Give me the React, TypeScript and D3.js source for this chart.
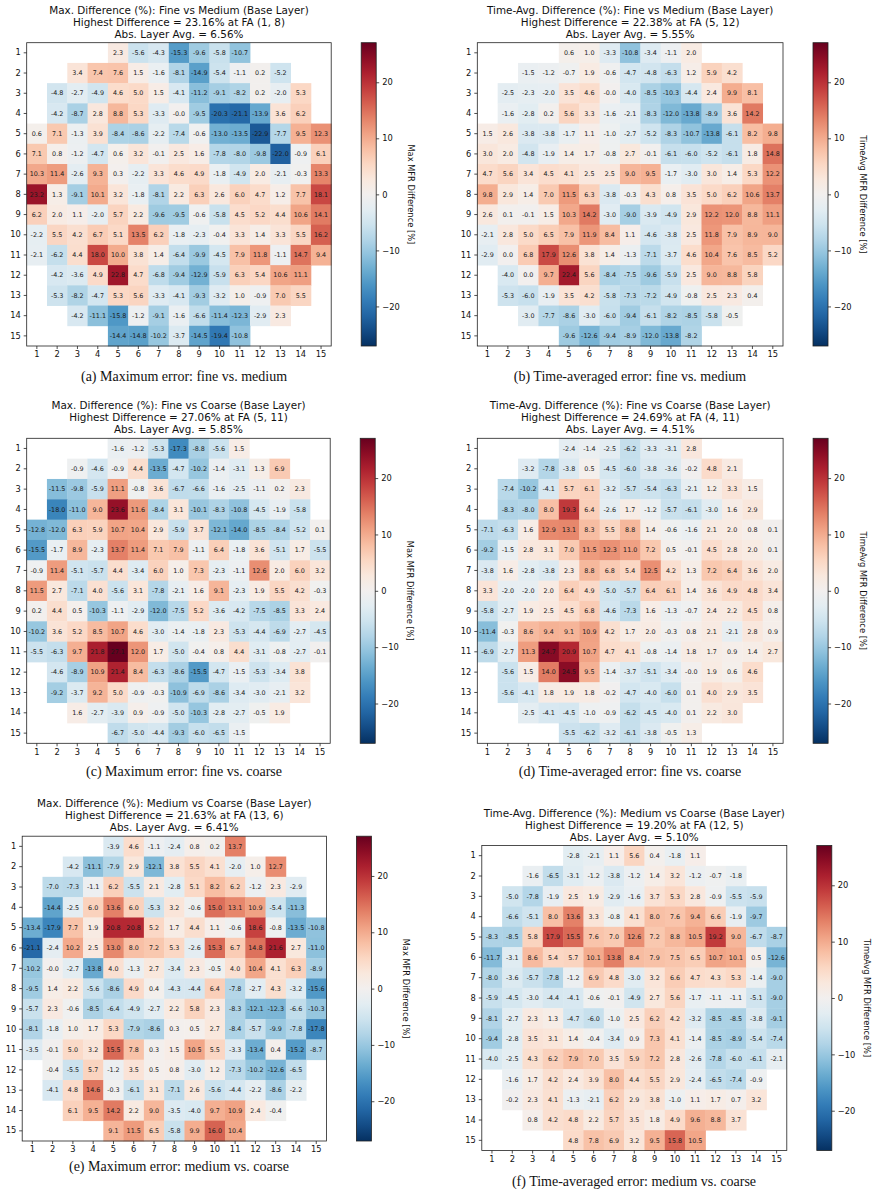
import * as d3 from 'd3';
import { useEffect, useRef } from 'react';

// first and last fuel-assembly column present in each core row (rows 1..15)
const ROW_SPANS: [number, number][] = [
  [5, 11], [3, 13], [2, 14], [2, 14],
  [1, 15], [1, 15], [1, 15], [1, 15], [1, 15], [1, 15], [1, 15],
  [2, 14], [2, 14], [3, 13], [5, 11],
];
const AXIS_LABELS = d3.range(1, 16);
const COLORBAR_TICKS = [-20, -10, 0, 10, 20];
// shared symmetric colour limit (largest difference over all six maps)
const COLOR_LIMIT = 27.06;

const MAX_FINE_MEDIUM = [
  [2.3, -5.6, -4.3, -15.3, -9.6, -5.8, -10.7],
  [3.4, 7.4, 7.6, 1.5, -1.6, -8.1, -14.9, -5.4, -1.1, 0.2, -5.2],
  [-4.8, -2.7, -4.9, 4.6, 5.0, 1.5, -4.1, -11.2, -9.1, -8.2, 0.2, -2.0, 5.3],
  [-4.2, -8.7, 2.8, 8.8, 5.3, -3.3, -0.0, -9.5, -20.3, -21.1, -13.9, 3.6, 6.2],
  [0.6, 7.1, -1.3, 3.9, -8.4, -8.6, -2.2, -7.4, -0.6, -13.0, -13.5, -22.9, -7.7, 9.5, 12.3],
  [7.1, 0.8, -1.2, -4.7, 0.6, 3.2, -0.1, 2.5, 1.6, -7.8, -8.0, -9.8, -22.0, -0.9, 6.1],
  [10.3, 11.4, -2.6, 9.3, 0.3, -2.2, 3.3, 4.6, 4.9, -1.8, -4.9, 2.0, -2.1, -0.3, 13.3],
  [23.2, 1.3, -9.1, 10.1, 3.2, -1.8, -8.1, 2.2, 6.3, 2.6, 6.0, 4.7, 1.2, 7.7, 18.1],
  [6.2, 2.0, 1.1, -2.0, 5.7, 2.2, -9.6, -9.5, -0.6, -5.8, 4.5, 5.2, 4.4, 10.6, 14.1],
  [-2.2, 5.5, 4.2, 6.7, 5.1, 13.5, 6.2, -1.8, -2.3, -0.4, 3.3, 1.4, 3.3, 5.5, 16.2],
  [-2.1, -6.2, 4.4, 18.0, 10.0, 3.8, 1.4, -6.4, -9.9, -4.5, 7.9, 11.8, -1.1, 14.7, 9.4],
  [-4.2, -3.6, 4.9, 22.8, 4.7, -6.8, -9.4, -12.9, -5.9, 6.3, 5.4, 10.6, 11.1],
  [-5.3, -8.2, -4.7, 5.3, 5.6, -3.3, -4.1, -9.3, -3.2, 1.0, -0.9, 7.0, 5.5],
  [-4.2, -11.1, -15.8, -1.2, -9.1, -1.6, -6.6, -11.4, -12.3, -2.9, 2.3],
  [-14.4, -14.8, -10.2, -3.7, -14.5, -19.4, -10.8],
];

const AVG_FINE_MEDIUM = [
  [0.6, 1.0, -3.3, -10.8, -3.4, -1.1, 2.0],
  [-1.5, -1.2, -0.7, 1.9, -0.6, -4.7, -4.8, -6.3, 1.2, 5.9, 4.2],
  [-2.5, -2.3, -2.0, 3.5, 4.6, -0.0, -4.0, -8.5, -10.3, -4.4, 2.4, 9.9, 8.1],
  [-1.6, -2.8, 0.2, 5.6, 3.3, -1.6, -2.1, -8.3, -12.0, -13.8, -8.9, 3.6, 14.2],
  [1.5, 2.6, -3.8, -3.8, -1.7, 1.1, -1.0, -2.7, -5.2, -8.3, -10.7, -13.8, -6.1, 8.2, 9.8],
  [3.0, 2.0, -4.8, -1.9, 1.4, 1.7, -0.8, 2.7, -0.1, -6.1, -6.0, -5.2, -6.1, 1.8, 14.8],
  [4.7, 5.6, 3.4, 4.5, 4.1, 2.5, 2.5, 9.0, 9.5, -1.7, -3.0, 3.0, 1.4, 5.3, 12.2],
  [9.8, 2.9, 1.4, 7.0, 11.5, 6.3, -3.8, -0.3, 4.3, 0.8, 3.5, 5.0, 6.2, 10.6, 13.7],
  [2.6, 0.1, -0.1, 1.5, 10.3, 14.2, -3.0, -9.0, -3.9, -4.9, 2.9, 12.2, 12.0, 8.8, 11.1],
  [-2.1, 2.8, 5.0, 6.5, 7.9, 11.9, 8.4, 1.1, -4.6, -3.8, 2.5, 11.8, 7.9, 8.9, 9.0],
  [-2.9, 0.0, 6.8, 17.9, 12.6, 3.8, 1.4, -1.3, -7.1, -3.7, 4.6, 10.4, 7.6, 8.5, 5.2],
  [-4.0, 0.0, 9.7, 22.4, 5.6, -8.4, -7.5, -9.6, -5.9, 2.5, 9.0, 8.8, 5.8],
  [-5.3, -6.0, -1.9, 3.5, 4.2, -5.8, -7.3, -7.2, -4.9, -0.8, 2.5, 2.3, 0.4],
  [-3.0, -7.7, -8.6, -3.0, -6.0, -9.4, -6.1, -8.2, -8.5, -5.8, -0.5],
  [-9.6, -12.6, -9.4, -8.9, -12.0, -13.8, -8.2],
];

const MAX_FINE_COARSE = [
  [-1.6, -1.2, -5.3, -17.3, -8.8, -5.6, 1.5],
  [-0.9, -4.6, -0.9, 4.4, -13.5, -4.7, -10.2, -1.4, -3.1, 1.3, 6.9],
  [-11.5, -9.8, -5.9, 11.1, -0.8, 3.6, -6.7, -6.6, -1.6, -2.5, -1.1, 0.2, 2.3],
  [-18.0, -11.0, 9.0, 23.6, 11.6, -8.4, 3.1, -10.1, -8.3, -10.8, -4.5, -1.9, -5.8],
  [-12.8, -12.0, 6.3, 5.9, 10.7, 10.4, 2.9, -5.9, 3.7, -12.1, -14.0, -8.5, -8.4, -5.2, 0.1],
  [-15.5, -1.7, 8.9, -2.3, 13.7, 11.4, 7.1, 7.9, -1.1, 6.4, -1.8, 3.6, -5.1, 1.7, -5.5],
  [-0.9, 11.4, -5.1, -5.7, 4.4, -3.4, 6.0, 1.0, 7.3, -2.3, -1.1, 12.6, 2.0, 6.0, 3.2],
  [11.5, 2.7, -7.1, 4.0, -5.6, 3.1, -7.8, -2.1, 1.6, 9.1, -2.3, 1.9, 5.5, 4.2, -0.3],
  [0.2, 4.4, 0.5, -10.3, -1.1, -2.9, -12.0, -7.5, 5.2, -3.6, -4.2, -7.5, -8.5, 3.3, 2.4],
  [-10.2, 3.6, 5.2, 8.5, 10.7, 4.6, -3.0, -1.4, -1.8, 2.3, -5.3, -4.4, -6.9, -2.7, -4.5],
  [-5.5, -6.3, 9.7, 21.8, 27.1, 12.0, 1.7, -5.0, -0.4, 0.8, 4.4, -3.1, -0.8, -2.7, -0.1],
  [-4.6, -8.9, 10.9, 21.4, 8.4, -6.3, -8.6, -15.5, -4.7, -1.5, -5.3, -3.4, 3.8],
  [-9.2, -3.7, 9.2, 5.0, -0.9, -0.3, -10.9, -6.9, -8.6, -3.4, -3.0, -2.1, 3.2],
  [1.6, -2.7, -3.9, 0.9, -0.9, -5.0, -10.3, -2.8, -2.7, -0.5, 1.9],
  [-6.7, -5.0, -4.4, -9.3, -6.0, -6.5, -1.5],
];

const AVG_FINE_COARSE = [
  [-2.4, -1.4, -2.5, -6.2, -3.3, -3.1, 2.8],
  [-3.2, -7.8, -3.8, 0.5, -4.5, -6.0, -3.8, -3.6, -0.2, 4.8, 2.1],
  [-7.4, -10.2, -4.1, 5.7, 6.1, -3.2, -5.7, -5.4, -6.3, -2.1, 1.2, 3.3, 1.5],
  [-8.3, -8.0, 8.0, 19.3, 6.4, -2.6, 1.7, -1.2, -5.7, -6.1, -3.0, 1.6, 2.9],
  [-7.1, -6.3, 1.6, 12.9, 13.1, 8.3, 5.5, 8.8, 1.4, -0.6, -1.6, 2.1, 2.0, 0.8, 0.1],
  [-9.2, -1.5, 2.8, 3.1, 7.0, 11.5, 12.3, 11.0, 7.2, 0.5, -0.1, 4.5, 2.8, 2.0, 0.1],
  [-3.8, 1.6, -2.8, -3.8, 2.3, 8.8, 6.8, 5.4, 12.5, 4.2, 1.3, 7.2, 6.4, 3.6, 2.0],
  [3.3, -2.0, -2.0, 2.0, 6.4, 4.9, -5.0, -5.7, 6.4, 6.1, 1.4, 3.6, 4.9, 4.8, 3.4],
  [-5.8, -2.7, 1.9, 2.5, 4.5, 6.8, -4.6, -7.3, 1.6, -1.3, -0.7, 2.4, 2.2, 4.5, 0.8],
  [-11.4, -0.3, 8.6, 9.4, 9.1, 10.9, 4.2, 1.7, 2.0, -0.3, 0.8, 2.1, -2.1, 2.8, 0.9],
  [-6.9, -2.7, 11.3, 24.7, 20.9, 10.7, 4.7, 4.1, -0.8, -1.4, 1.8, 1.7, 0.9, 1.4, 2.7],
  [-5.6, 1.5, 14.0, 24.5, 9.5, -1.4, -3.7, -5.1, -3.4, -0.0, 1.9, 0.6, 4.6],
  [-5.6, -4.1, 1.8, 1.9, 1.8, -0.2, -4.7, -4.0, -6.0, 0.1, 4.0, 2.9, 3.5],
  [-2.5, -4.1, -4.5, -1.0, -0.9, -6.2, -4.5, -4.0, 0.1, 2.2, 3.0],
  [-5.5, -6.2, -3.2, -6.1, -3.8, -0.5, 1.3],
];

const MAX_MEDIUM_COARSE = [
  [-3.9, 4.6, -1.1, -2.4, 0.8, 0.2, 13.7],
  [-4.2, -11.1, -7.9, 2.9, -12.1, 3.8, 5.5, 4.1, -2.0, 1.0, 12.7],
  [-7.0, -7.3, -1.1, 6.2, -5.5, 2.1, -2.8, 5.1, 8.2, 6.2, -1.2, 2.3, -2.9],
  [-14.4, -2.5, 6.0, 13.6, 6.0, -5.3, 3.2, -0.6, 15.0, 13.1, 10.9, -5.4, -11.3],
  [-13.4, -17.9, 7.7, 1.9, 20.8, 20.8, 5.2, 1.7, 4.4, 1.1, -0.6, 18.6, -0.8, -13.5, -10.8],
  [-21.1, -2.4, 10.2, 2.5, 13.0, 8.0, 7.2, 5.3, -2.6, 15.3, 6.7, 14.8, 21.6, 2.7, -11.0],
  [-10.2, -0.0, -2.7, -13.8, 4.0, -1.3, 2.7, -3.4, 2.3, -0.5, 4.0, 10.4, 4.1, 6.3, -8.9],
  [-9.5, 1.4, 2.2, -5.6, -8.6, 4.9, 0.4, -4.3, -4.4, 6.4, -7.8, -2.7, 4.3, -3.2, -15.6],
  [-5.7, 2.3, -0.6, -8.5, -6.4, -4.9, -2.7, 2.2, 5.8, 2.3, -8.3, -12.1, -12.3, -6.6, -10.3],
  [-8.1, -1.8, 1.0, 1.7, 5.3, -7.9, -8.6, 0.3, 0.5, 2.7, -8.4, -5.7, -9.9, -7.8, -17.8],
  [-3.5, -0.1, 5.0, 3.2, 15.5, 7.8, 0.3, 1.5, 10.5, 5.5, -3.3, -13.4, 0.4, -15.2, -8.7],
  [-0.4, -5.5, 5.7, -1.2, 3.5, 0.5, 0.8, -3.0, 1.2, -7.3, -10.2, -12.6, -6.5],
  [-4.1, 4.8, 14.6, -0.3, -6.1, 3.1, -7.1, 2.6, -5.6, -4.4, -2.2, -8.6, -2.2],
  [6.1, 9.5, 14.2, 2.2, 9.0, -3.5, -4.0, 9.7, 10.9, 2.4, -0.4],
  [9.1, 11.5, 6.5, -5.8, 9.9, 16.0, 10.4],
];

const AVG_MEDIUM_COARSE = [
  [-2.8, -2.1, 1.1, 5.6, 0.4, -1.8, 1.1],
  [-1.6, -6.5, -3.1, -1.2, -3.8, -1.2, 1.4, 3.2, -1.2, -0.7, -1.8],
  [-5.0, -7.8, -1.9, 2.5, 1.9, -2.9, -1.6, 3.7, 5.3, 2.8, -0.9, -5.5, -5.9],
  [-6.6, -5.1, 8.0, 13.6, 3.3, -0.8, 4.1, 8.0, 7.6, 9.4, 6.6, -1.9, -9.7],
  [-8.3, -8.5, 5.8, 17.9, 15.5, 7.6, 7.0, 12.6, 7.2, 8.8, 10.5, 19.2, 9.0, -6.7, -8.7],
  [-11.7, -3.1, 8.6, 5.4, 5.7, 10.1, 13.8, 8.4, 7.9, 7.5, 6.5, 10.7, 10.1, 0.5, -12.6],
  [-8.0, -3.6, -5.7, -7.8, -1.2, 6.9, 4.8, -3.0, 3.2, 6.6, 4.7, 4.3, 5.3, -1.4, -9.0],
  [-5.9, -4.5, -3.0, -4.4, -4.1, -0.6, -0.1, -4.9, 2.7, 5.6, -1.7, -1.1, -1.1, -5.1, -9.0],
  [-8.1, -2.7, 2.3, 1.3, -4.7, -6.0, -1.0, 2.5, 6.2, 4.2, -3.2, -8.5, -8.5, -3.8, -9.1],
  [-9.4, -2.8, 3.5, 3.1, 1.4, -0.4, -3.4, 0.9, 7.3, 4.1, -1.4, -8.5, -8.9, -5.4, -7.4],
  [-4.0, -2.5, 4.3, 6.2, 7.9, 7.0, 3.5, 5.9, 7.2, 2.8, -2.6, -7.8, -6.0, -6.1, -2.1],
  [-1.6, 1.7, 4.2, 2.4, 3.9, 8.0, 4.4, 5.5, 2.9, -2.4, -6.5, -7.4, -0.9],
  [-0.2, 2.3, 4.1, -1.3, -2.1, 6.2, 2.9, 3.8, -1.0, 1.1, 1.7, 0.7, 3.2],
  [0.8, 4.2, 4.8, 2.2, 5.7, 3.5, 1.8, 4.9, 9.6, 8.8, 3.7],
  [4.8, 7.8, 6.9, 3.2, 9.5, 15.8, 10.5],
];

const MAX_LABEL = 'Max MFR Difference [%]';
const AVG_LABEL = 'TimeAvg MFR Difference [%]';

const PANELS = [
  {
    data: MAX_FINE_MEDIUM, cbarLabel: MAX_LABEL,
    title: ['Max. Difference (%): Fine vs Medium (Base Layer)', 'Highest Difference = 23.16% at FA (1, 8)', 'Abs. Layer Avg. = 6.56%'],
    caption: '(a) Maximum error: fine vs. medium',
    box: { x: 26.7, y: 42.7, w: 304.5, h: 303.3 }, captionX: 184, captionY: 381,
  },
  {
    data: AVG_FINE_MEDIUM, cbarLabel: AVG_LABEL,
    title: ['Time-Avg. Difference (%): Fine vs Medium (Base Layer)', 'Highest Difference = 22.38% at FA (5, 12)', 'Abs. Layer Avg. = 5.55%'],
    caption: '(b) Time-averaged error: fine vs. medium',
    box: { x: 477.3, y: 42.7, w: 305.7, h: 303.3 }, captionX: 630, captionY: 381,
  },
  {
    data: MAX_FINE_COARSE, cbarLabel: MAX_LABEL,
    title: ['Max. Difference (%): Fine vs Coarse (Base Layer)', 'Highest Difference = 27.06% at FA (5, 11)', 'Abs. Layer Avg. = 5.85%'],
    caption: '(c) Maximum error: fine vs. coarse',
    box: { x: 26.7, y: 438.3, w: 303.5, h: 305 }, captionX: 184, captionY: 776,
  },
  {
    data: AVG_FINE_COARSE, cbarLabel: AVG_LABEL,
    title: ['Time-Avg. Difference (%): Fine vs Coarse (Base Layer)', 'Highest Difference = 24.69% at FA (4, 11)', 'Abs. Layer Avg. = 4.51%'],
    caption: '(d) Time-averaged error: fine vs. coarse',
    box: { x: 477.3, y: 438.3, w: 305.8, h: 305 }, captionX: 630, captionY: 776,
  },
  {
    data: MAX_MEDIUM_COARSE, cbarLabel: MAX_LABEL,
    title: ['Max. Difference (%): Medium vs Coarse (Base Layer)', 'Highest Difference = 21.63% at FA (13, 6)', 'Abs. Layer Avg. = 6.41%'],
    caption: '(e) Maximum error: medium vs. coarse',
    box: { x: 22.2, y: 836.2, w: 304.2, h: 304.8 }, captionX: 179, captionY: 1171,
  },
  {
    data: AVG_MEDIUM_COARSE, cbarLabel: AVG_LABEL,
    title: ['Time-Avg. Difference (%): Medium vs Coarse (Base Layer)', 'Highest Difference = 19.20% at FA (12, 5)', 'Abs. Layer Avg. = 5.10%'],
    caption: '(f) Time-averaged error: medium vs. coarse',
    box: { x: 481.8, y: 845.5, w: 305, h: 305 }, captionX: 634, captionY: 1186,
  },
];

const SANS = 'DejaVu Sans';
const fmtCell = (v: number) => (v < 0 || Object.is(v, -0) ? '-' : '') + Math.abs(v).toFixed(1);
const fmtTick = (v: number) => (v < 0 ? '\u2212' : '') + Math.abs(v);

function App() {
  const svgRef = useRef<SVGSVGElement>(null);

  useEffect(() => {
    if (!svgRef.current) { return; }
    const svg = d3.select(svgRef.current);
    svg.selectAll('*').remove();
    const defs = svg.append('defs');
    const color = (v: number) => d3.interpolateRdBu(1 - (v + COLOR_LIMIT) / (2 * COLOR_LIMIT));

    PANELS.forEach((panel, pi) => {
      const { x, y, w, h } = panel.box;
      const xs = d3.scaleBand<number>().domain(AXIS_LABELS).range([x, x + w]);
      const ys = d3.scaleBand<number>().domain(AXIS_LABELS).range([y, y + h]);

      const cells = panel.data.flatMap((row, ri) =>
        row.map((v, ci) => ({ row: ri + 1, col: ROW_SPANS[ri][0] + ci, v })));

      const g = svg.append('g');

      // heatmap cells
      g.append('g').selectAll('rect').data(cells).join('rect')
        .attr('x', d => xs(d.col)!)
        .attr('y', d => ys(d.row)!)
        .attr('width', xs.bandwidth() + 0.4)
        .attr('height', ys.bandwidth() + 0.4)
        .attr('fill', d => color(d.v));

      // value labels
      g.append('g').selectAll('text').data(cells).join('text')
        .attr('x', d => xs(d.col)! + xs.bandwidth() / 2)
        .attr('y', d => ys(d.row)! + ys.bandwidth() / 2)
        .attr('dy', '0.35em')
        .attr('text-anchor', 'middle')
        .attr('font-family', SANS)
        .attr('font-size', 6.4)
        .attr('fill', '#1a1a1a')
        .text(d => fmtCell(d.v));

      // frame
      g.append('rect')
        .attr('x', x).attr('y', y).attr('width', w).attr('height', h)
        .attr('fill', 'none').attr('stroke', '#222').attr('stroke-width', 0.8);

      const leftAxis = g.append('g')
        .attr('transform', `translate(${x},0)`)
        .call(d3.axisLeft(ys).tickSize(3).tickPadding(3));
      const bottomAxis = g.append('g')
        .attr('transform', `translate(0,${y + h})`)
        .call(d3.axisBottom(xs).tickSize(3).tickPadding(2.5));
      [leftAxis, bottomAxis].forEach(ax => {
        ax.select('.domain').remove();
        ax.selectAll('line').attr('stroke', '#222').attr('stroke-width', 0.8);
        ax.selectAll('text').attr('font-family', SANS).attr('font-size', 8.3).attr('fill', '#111');
      });

      // title
      panel.title.forEach((line, li) => {
        g.append('text')
          .attr('x', x + w / 2)
          .attr('y', y - 29 + li * 12)
          .attr('text-anchor', 'middle')
          .attr('font-family', SANS)
          .attr('font-size', 10.4)
          .attr('fill', '#111')
          .text(line);
      });

      // colorbar
      const cbX = x + w + 30;
      const cbW = 15;
      const gradId = `cbar-${pi}`;
      const grad = defs.append('linearGradient')
        .attr('id', gradId).attr('x1', 0).attr('y1', 1).attr('x2', 0).attr('y2', 0);
      d3.range(0, 1.0001, 0.05).forEach(t => {
        grad.append('stop').attr('offset', t).attr('stop-color', d3.interpolateRdBu(1 - t));
      });
      g.append('rect')
        .attr('x', cbX).attr('y', y).attr('width', cbW).attr('height', h)
        .attr('fill', `url(#${gradId})`)
        .attr('stroke', '#222').attr('stroke-width', 0.8);
      const cbScale = d3.scaleLinear().domain([-COLOR_LIMIT, COLOR_LIMIT]).range([y + h, y]);
      const cbAxis = g.append('g')
        .attr('transform', `translate(${cbX + cbW},0)`)
        .call(d3.axisRight(cbScale).tickValues(COLORBAR_TICKS).tickFormat(v => fmtTick(+v)).tickSize(3).tickPadding(3));
      cbAxis.select('.domain').remove();
      cbAxis.selectAll('line').attr('stroke', '#222').attr('stroke-width', 0.8);
      cbAxis.selectAll('text').attr('font-family', SANS).attr('font-size', 8.3).attr('fill', '#111');

      g.append('text')
        .attr('transform', `translate(${cbX + cbW + 32},${y + h / 2}) rotate(90)`)
        .attr('text-anchor', 'middle')
        .attr('font-family', SANS)
        .attr('font-size', 8.3)
        .attr('fill', '#111')
        .text(panel.cbarLabel);

      // subfigure caption
      svg.append('text')
        .attr('x', panel.captionX)
        .attr('y', panel.captionY)
        .attr('text-anchor', 'middle')
        .attr('font-family', 'Liberation Serif')
        .attr('font-size', 14)
        .attr('fill', '#111')
        .text(panel.caption);
    });
  }, []);

  return (
    <svg
      ref={svgRef}
      width={875}
      height={1192}
      style={{ position: 'absolute', left: 0, top: 0, background: '#fff' }}
    />
  );
}

export default App;
